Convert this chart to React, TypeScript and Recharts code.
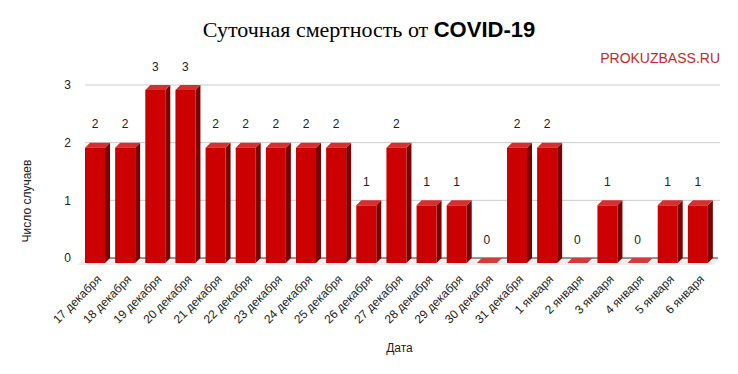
import { BarChart, Bar, XAxis, YAxis, CartesianGrid, LabelList } from 'recharts';

const dates = [
  '17 декабря', '18 декабря', '19 декабря', '20 декабря', '21 декабря',
  '22 декабря', '23 декабря', '24 декабря', '25 декабря', '26 декабря',
  '27 декабря', '28 декабря', '29 декабря', '30 декабря', '31 декабря',
  '1 января', '2 января', '3 января', '4 января', '5 января', '6 января',
];
const deaths = [2, 2, 3, 3, 2, 2, 2, 2, 2, 1, 2, 1, 1, 0, 2, 2, 0, 1, 0, 1, 1];
const yTicks = [0, 1, 2, 3];

const data = dates.map((date, i) => ({ date, value: deaths[i] }));

const DX = 5;
const DY = 5;
const FONT = 'Arial, "Liberation Sans", sans-serif';

// 3D box: recharts gives the back face, front face is shifted down-left
const Bar3D = (props: any) => {
  const { x, y, width, height } = props;
  const fx = x - DX;
  const fy = y + DY;
  const w = width;
  const h = Math.max(0, height);
  const top = `${fx},${fy} ${x},${y} ${x + w},${y} ${fx + w},${fy}`;
  if (h < 0.5) {
    return <polygon points={top} fill="#d33a3a" />;
  }
  const side = `${fx + w},${fy} ${x + w},${y} ${x + w},${y + h} ${fx + w},${fy + h}`;
  return (
    <g>
      <polygon points={side} fill="#7d0000" />
      <polygon points={top} fill="#d62f2f" />
      <rect x={fx} y={fy} width={w} height={h} fill="#cc0000" />
    </g>
  );
};

const GridLine = (props: any) => {
  const { x1, x2, y1, index } = props;
  if (index === 0 || y1 > 250) {
    return (
      <g key={`floor-${index}`}>
        <polygon
          points={`${x1},${y1} ${x2 + 2},${y1} ${x2 - DX},${y1 + DY + 2} ${x1 - DX - 3},${y1 + DY + 2}`}
          fill="#ededed"
        />
        <line x1={x1} x2={x2} y1={y1} y2={y1} stroke="#333" strokeWidth={1} />
      </g>
    );
  }
  return <line key={`grid-${index}`} x1={x1} x2={x2 + 2} y1={y1} y2={y1} stroke="#cccccc" strokeWidth={1} />;
};

const XTick = (props: any) => {
  const { x, y, payload } = props;
  const ax = x + 2;
  const ay = y + 14;
  return (
    <text
      x={ax}
      y={ay}
      textAnchor="end"
      fontSize={12}
      fontFamily={FONT}
      fill="#222"
      transform={`rotate(-45, ${ax}, ${ay})`}
    >
      {payload.value}
    </text>
  );
};

const ValueLabel = (props: any) => {
  const { x, y, width, value } = props;
  return (
    <text
      x={x + width / 2 - DX}
      y={y - 18.5}
      textAnchor="middle"
      dominantBaseline="central"
      fontSize={12}
      fontFamily={FONT}
      fill="#222"
    >
      {value}
    </text>
  );
};

export default function App() {
  return (
    <div style={{ position: 'relative', width: 738, height: 374, background: '#fff' }}>
      <style>{'body{margin:0}'}</style>
      <div
        style={{
          position: 'absolute',
          top: 18,
          left: 0,
          width: 738,
          textAlign: 'center',
          fontSize: 22,
          lineHeight: '24px',
          color: '#000',
          whiteSpace: 'nowrap',
        }}
      >
        <span style={{ fontFamily: '"Liberation Serif", "Times New Roman", serif' }}>Суточная смертность от </span>
        <span style={{ fontFamily: FONT, fontWeight: 'bold' }}>COVID-19</span>
      </div>
      <div
        style={{
          position: 'absolute',
          top: 50,
          right: 18,
          fontFamily: FONT,
          fontSize: 14,
          lineHeight: '16px',
          color: '#c62828',
        }}
      >
        PROKUZBASS.RU
      </div>
      <div style={{ position: 'absolute', top: 0, left: 0 }}>
        <BarChart
          width={738}
          height={374}
          data={data}
          margin={{ top: 85, right: 20, bottom: 0, left: 25 }}
        >
          <CartesianGrid vertical={false} horizontal={GridLine} />
          <XAxis
            dataKey="date"
            interval={0}
            height={116}
            axisLine={false}
            tickLine={false}
            tick={XTick}
            label={{
              content: (p: any) => (
                <text
                  x={p.viewBox.x + p.viewBox.width / 2 - 2}
                  y={348}
                  textAnchor="middle"
                  dominantBaseline="central"
                  fontSize={12}
                  fontFamily={FONT}
                  fill="#222"
                >
                  Дата
                </text>
              ),
            }}
          />
          <YAxis
            width={60}
            domain={[0, 3]}
            ticks={yTicks}
            axisLine={false}
            tickLine={false}
            tickSize={0}
            tickMargin={14}
            tick={{ fontSize: 12, fontFamily: FONT, fill: '#222' }}
            label={{
              content: () => (
                <text
                  x={27}
                  y={201}
                  textAnchor="middle"
                  dominantBaseline="central"
                  fontSize={12}
                  fontFamily={FONT}
                  fill="#222"
                  transform="rotate(-90, 27, 201)"
                >
                  Число случаев
                </text>
              ),
            }}
          />
          <Bar dataKey="value" barSize={20} shape={Bar3D} isAnimationActive={false}>
            <LabelList dataKey="value" content={ValueLabel} />
          </Bar>
        </BarChart>
      </div>
    </div>
  );
}
